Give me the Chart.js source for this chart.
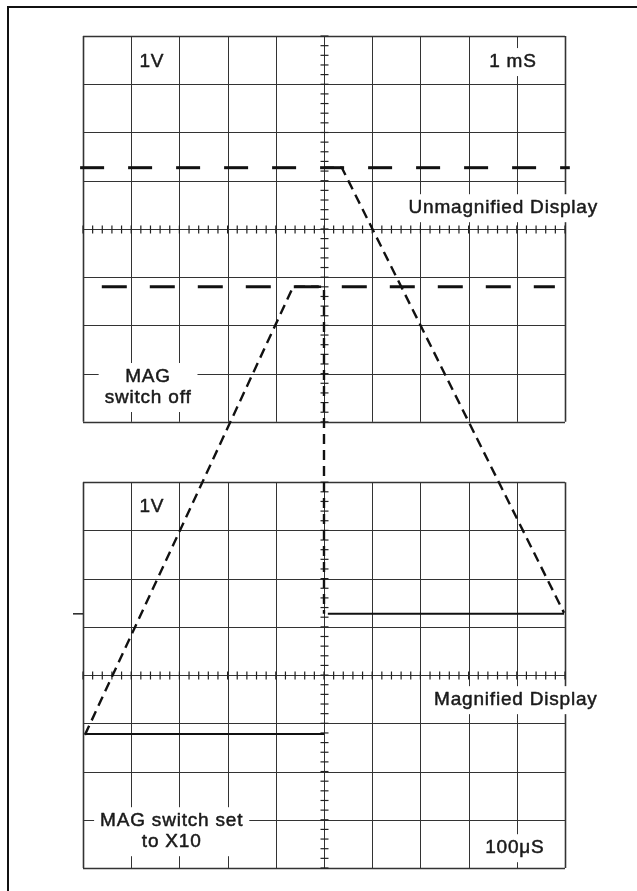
<!DOCTYPE html>
<html>
<head>
<meta charset="utf-8">
<script src="https://cdn.jsdelivr.net/npm/chart.js@4/dist/chart.umd.min.js"></script>
<style>
  html, body { margin: 0; padding: 0; background: #fff; }
  #wrap { width: 637px; height: 891px; }
</style>
</head>
<body>
<div id="wrap"><canvas id="scope" width="637" height="891"></canvas></div>
<script>
// Values are in screen divisions. x: 0..10 across the graticule.
// y: magnified graticule spans 0..8, unmagnified graticule spans 9.25..17.25
const rampX = [0.04, 4.36, 5.0, 5.0];        // dashed ramp up (MAG off trace)
const rampY = [2.76, 12.05, 12.05, 5.27];
const fallX = [5.0, 5.37, 9.98];             // dashed ramp down
const fallY = [14.52, 14.52, 5.29];
const refUpperX = [-0.06, 10.1];             // unmagnified display levels
const refUpperY = [14.52, 14.52];
const refLowerX = [0.39, 9.79];
const refLowerY = [12.05, 12.05];
const magLeftX = [0.04, 5.0];                // magnified display trace
const magLeftY = [2.78, 2.78];
const magRightX = [5.08, 9.98];
const magRightY = [5.27, 5.27];

// graticules: bottom edge of each, in divisions
const graticules = [9.25, 0];
const cols = 10, rows = 8;

// screen annotations
const notes = [
  { lines: ['1V'], x: 1.43, y: 16.71 },
  { lines: ['1 mS'], x: 8.92, y: 16.71 },
  { lines: ['Unmagnified Display'], x: 8.72, y: 13.68 },
  { lines: ['MAG', 'switch off'], x: 1.35, y: 10.18 },
  { lines: ['1V'], x: 1.43, y: 7.48 },
  { lines: ['Magnified Display'], x: 8.98, y: 3.48 },
  { lines: ['MAG switch set', 'to X10'], x: 1.84, y: 0.97 },
  { lines: ['100\u03bcS'], x: 8.96, y: 0.41 }
];

const pts = (xs, ys) => xs.map((v, i) => ({ x: v, y: ys[i] }));

const scopePlugin = {
  id: 'scopeGrid',
  beforeDatasetsDraw(chart) {
    const { ctx, scales: { x, y } } = chart;
    const px = v => x.getPixelForValue(v);
    const py = v => y.getPixelForValue(v);
    ctx.save();

    // outer frame
    ctx.strokeStyle = '#111';
    ctx.lineWidth = 2;
    ctx.beginPath();
    ctx.moveTo(8, 900);
    ctx.lineTo(8, 7);
    ctx.lineTo(640, 7);
    ctx.stroke();

    graticules.forEach(y0 => {
      ctx.strokeStyle = '#333';
      for (let i = 0; i <= cols; i++) {
        ctx.lineWidth = (i === 0 || i === cols) ? 1.6 : 1;
        const xx = Math.round(px(i)) + 0.5;
        ctx.beginPath();
        ctx.moveTo(xx, py(y0));
        ctx.lineTo(xx, py(y0 + rows));
        ctx.stroke();
      }
      for (let j = 0; j <= rows; j++) {
        ctx.lineWidth = (j === 0 || j === rows) ? 1.6 : 1;
        const yy = Math.round(py(y0 + j)) + 0.5;
        ctx.beginPath();
        ctx.moveTo(px(0), yy);
        ctx.lineTo(px(cols), yy);
        ctx.stroke();
      }
      // minor ticks on the centre axes
      ctx.lineWidth = 1.2;
      ctx.strokeStyle = '#222';
      const cx = Math.round(px(cols / 2)) + 0.5;
      const cy = Math.round(py(y0 + rows / 2)) + 0.5;
      for (let t = 0; t <= cols * 5; t++) {
        const xx = px(t / 5);
        ctx.beginPath();
        ctx.moveTo(xx, cy - 4);
        ctx.lineTo(xx, cy + 4);
        ctx.stroke();
      }
      for (let t = 0; t <= rows * 5; t++) {
        const yy = py(y0 + t / 5);
        ctx.beginPath();
        ctx.moveTo(cx - 4, yy);
        ctx.lineTo(cx + 4, yy);
        ctx.stroke();
      }
    });

    // trace level marker left of magnified graticule
    ctx.lineWidth = 1.5;
    ctx.strokeStyle = '#222';
    ctx.beginPath();
    ctx.moveTo(px(0) - 10, py(magRightY[0]));
    ctx.lineTo(px(0), py(magRightY[0]));
    ctx.stroke();

    // annotations on white boxes
    ctx.font = '19px "Liberation Sans", Arial, sans-serif';
    ctx.letterSpacing = '0.8px';
    ctx.textAlign = 'center';
    ctx.textBaseline = 'middle';
    ctx.lineJoin = 'round';
    notes.forEach(n => {
      const lh = 21;
      const w = Math.max(...n.lines.map(s => ctx.measureText(s).width));
      const cxp = px(n.x);
      const top = py(n.y);
      ctx.fillStyle = '#fff';
      ctx.fillRect(cxp - w / 2 - 6, top - 14, w + 12, lh * (n.lines.length - 1) + 28);
      ctx.fillStyle = '#1a1a1a';
      ctx.strokeStyle = '#1a1a1a';
      ctx.lineWidth = 0.5;
      n.lines.forEach((s, k) => {
        ctx.fillText(s, cxp, top + k * lh);
        ctx.strokeText(s, cxp, top + k * lh);
      });
    });

    ctx.restore();
  }
};

const dashed = { borderColor: '#111', borderWidth: 2.4, borderDash: [10, 6], pointRadius: 0, showLine: true, fill: false };
const refDash = { borderColor: '#111', borderWidth: 3, pointRadius: 0, showLine: true, fill: false };
const solid = { borderColor: '#111', borderWidth: 2, pointRadius: 0, showLine: true, fill: false };

new Chart(document.getElementById('scope').getContext('2d'), {
  type: 'scatter',
  data: {
    datasets: [
      { ...refDash, label: 'upper level', data: pts(refUpperX, refUpperY), borderDash: [24, 24] },
      { ...refDash, label: 'lower level', data: pts(refLowerX, refLowerY), borderDash: [25, 23] },
      { ...dashed, label: 'ramp up', data: pts(rampX, rampY) },
      { ...dashed, label: 'ramp down', data: pts(fallX, fallY) },
      { ...solid, label: 'magnified left', data: pts(magLeftX, magLeftY) },
      { ...solid, label: 'magnified right', data: pts(magRightX, magRightY) }
    ]
  },
  options: {
    responsive: false,
    animation: false,
    layout: { padding: 0 },
    plugins: { legend: { display: false }, tooltip: { enabled: false } },
    scales: {
      x: { type: 'linear', min: -1.722, max: 11.494, display: false },
      y: { type: 'linear', min: -0.477, max: 17.997, display: false }
    }
  },
  plugins: [scopePlugin]
});
</script>
</body>
</html>
